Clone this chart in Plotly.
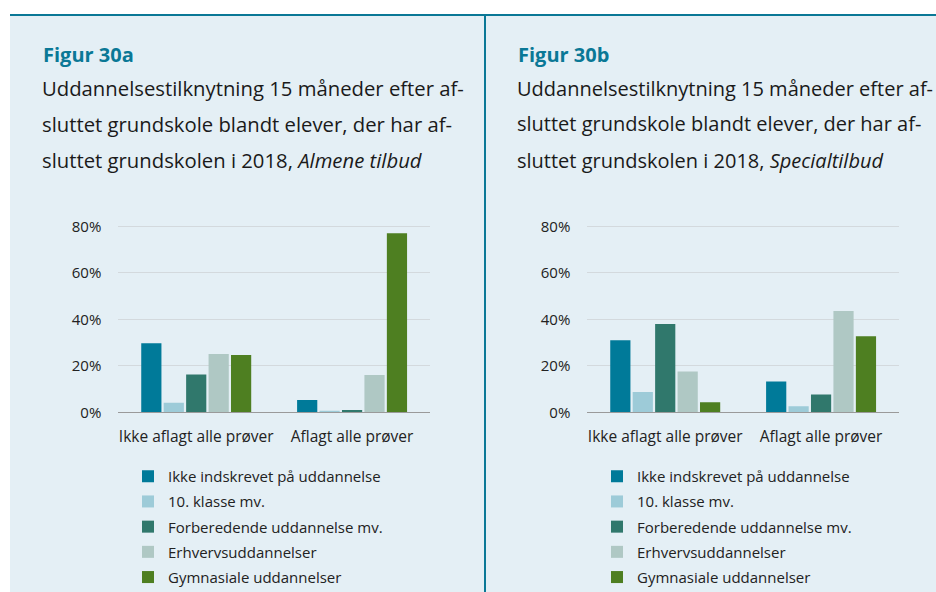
import plotly.graph_objects as go

categories = ["Ikke aflagt alle prøver", "Aflagt alle prøver"]
series_names = [
    "Ikke indskrevet på uddannelse",
    "10. klasse mv.",
    "Forberedende uddannelse mv.",
    "Erhvervsuddannelser",
    "Gymnasiale uddannelser",
]
# Figur 30a - Almene tilbud (percent)
almene = [
    [29.7, 5.3],
    [4.1, 0.3],
    [16.3, 1.0],
    [25.1, 16.0],
    [24.6, 77.0],
]
# Figur 30b - Specialtilbud (percent)
special = [
    [31.0, 13.2],
    [8.7, 2.6],
    [38.0, 7.7],
    [17.6, 43.6],
    [4.3, 32.7],
]
tick_vals = [0, 20, 40, 60, 80]
tick_text = ["0%", "20%", "40%", "60%", "80%"]
colors = ["#007a99", "#9dcbd8", "#30786c", "#afc8c4", "#4e7f21"]

W, H = 936, 592
BG = "#e4eff5"
TEAL = "#0a7896"
FONT = "Open Sans"

fig = go.Figure()
for i, name in enumerate(series_names):
    fig.add_trace(go.Bar(x=categories, y=almene[i], name=name, marker_color=colors[i],
                         marker_line_width=0, xaxis="x", yaxis="y", legend="legend",
                         legendgroup="a%d" % i))
for i, name in enumerate(series_names):
    fig.add_trace(go.Bar(x=categories, y=special[i], name=name, marker_color=colors[i],
                         marker_line_width=0, xaxis="x2", yaxis="y2", legend="legend2",
                         legendgroup="b%d" % i))

def px_x(p):
    return p / W
def px_y(p):
    return 1 - p / H

y0, y80 = 412.3, 226.3
ymax = 82
ytop = y0 - ymax * (y0 - y80) / 80

axis_common = dict(showgrid=False, showline=True, linecolor="#9a9a9a", linewidth=1,
                   ticks="", tickfont=dict(size=15.5, color="#222", family=FONT),
                   ticklabelstandoff=10, fixedrange=True)
yaxis_common = dict(range=[0, ymax], tickvals=tick_vals, ticktext=tick_text,
                    showgrid=True, gridcolor="#d3d9dd", gridwidth=1, zeroline=False,
                    showline=False, ticks="", tickfont=dict(size=15, color="#222", family=FONT),
                    ticklabelstandoff=16, fixedrange=True)

legend_common = dict(xanchor="left", yanchor="top", bgcolor="rgba(0,0,0,0)",
                     font=dict(size=15, color="#222", family=FONT),
                     tracegroupgap=2.7, itemwidth=30, traceorder="grouped")

fig.update_layout(
    width=W, height=H,
    margin=dict(l=0, r=0, t=0, b=0, pad=0, autoexpand=False),
    paper_bgcolor="white", plot_bgcolor="rgba(0,0,0,0)",
    font=dict(family=FONT, color="#222"),
    barmode="group", bargap=0.28, bargroupgap=0.1,
    xaxis=dict(domain=[px_x(118.3), px_x(430)], anchor="y", **axis_common),
    yaxis=dict(domain=[px_y(y0), px_y(ytop)], anchor="x", **yaxis_common),
    xaxis2=dict(domain=[px_x(587.3), px_x(899)], anchor="y2", **axis_common),
    yaxis2=dict(domain=[px_y(y0), px_y(ytop)], anchor="x2", **yaxis_common),
    legend=dict(x=px_x(128), y=px_y(460), **legend_common),
    legend2=dict(x=px_x(597), y=px_y(460), **legend_common),
    showlegend=True,
)

shapes = [
    dict(type="rect", xref="paper", yref="paper", x0=px_x(10), x1=1, y0=0, y1=px_y(15),
         fillcolor=BG, line_width=0, layer="below"),
    dict(type="line", xref="paper", yref="paper", x0=px_x(10), x1=1, y0=px_y(15), y1=px_y(15),
         line=dict(color=TEAL, width=2)),
    dict(type="line", xref="paper", yref="paper", x0=px_x(485), x1=px_x(485), y0=0, y1=px_y(15),
         line=dict(color=TEAL, width=2)),
]
fig.update_layout(shapes=shapes)

titles = [
    (41, 20.3, "Figur 30a", ["Uddannelsestilknytning 15 måneder efter af-",
                             "sluttet grundskole blandt elever, der har af-",
                             "sluttet grundskolen i 2018, <i>Almene tilbud</i>"]),
    (516, 20, "Figur 30b", ["Uddannelsestilknytning 15 måneder efter af-",
                            "sluttet grundskole blandt elever, der har af-",
                            "sluttet grundskolen i 2018, <i>Specialtilbud</i>"]),
]
ann = []
for x, fs, head, lines in titles:
    ann.append(dict(xref="paper", yref="paper", x=px_x(x), y=px_y(55), xanchor="left",
                    yanchor="middle", showarrow=False, text="<b>%s</b>" % head,
                    font=dict(size=20, color=TEAL, family=FONT)))
    for j, ln in enumerate(lines):
        ann.append(dict(xref="paper", yref="paper", x=px_x(x - 1), y=px_y(88 + 36 * j),
                        xanchor="left", yanchor="middle", showarrow=False, text=ln,
                        font=dict(size=fs, color="#1a1a1a", family=FONT)))
fig.update_layout(annotations=ann)

fig.write_html("out.html", config={"displayModeBar": False},
               post_script="document.body.style.margin='0';document.body.style.overflow='hidden';")
